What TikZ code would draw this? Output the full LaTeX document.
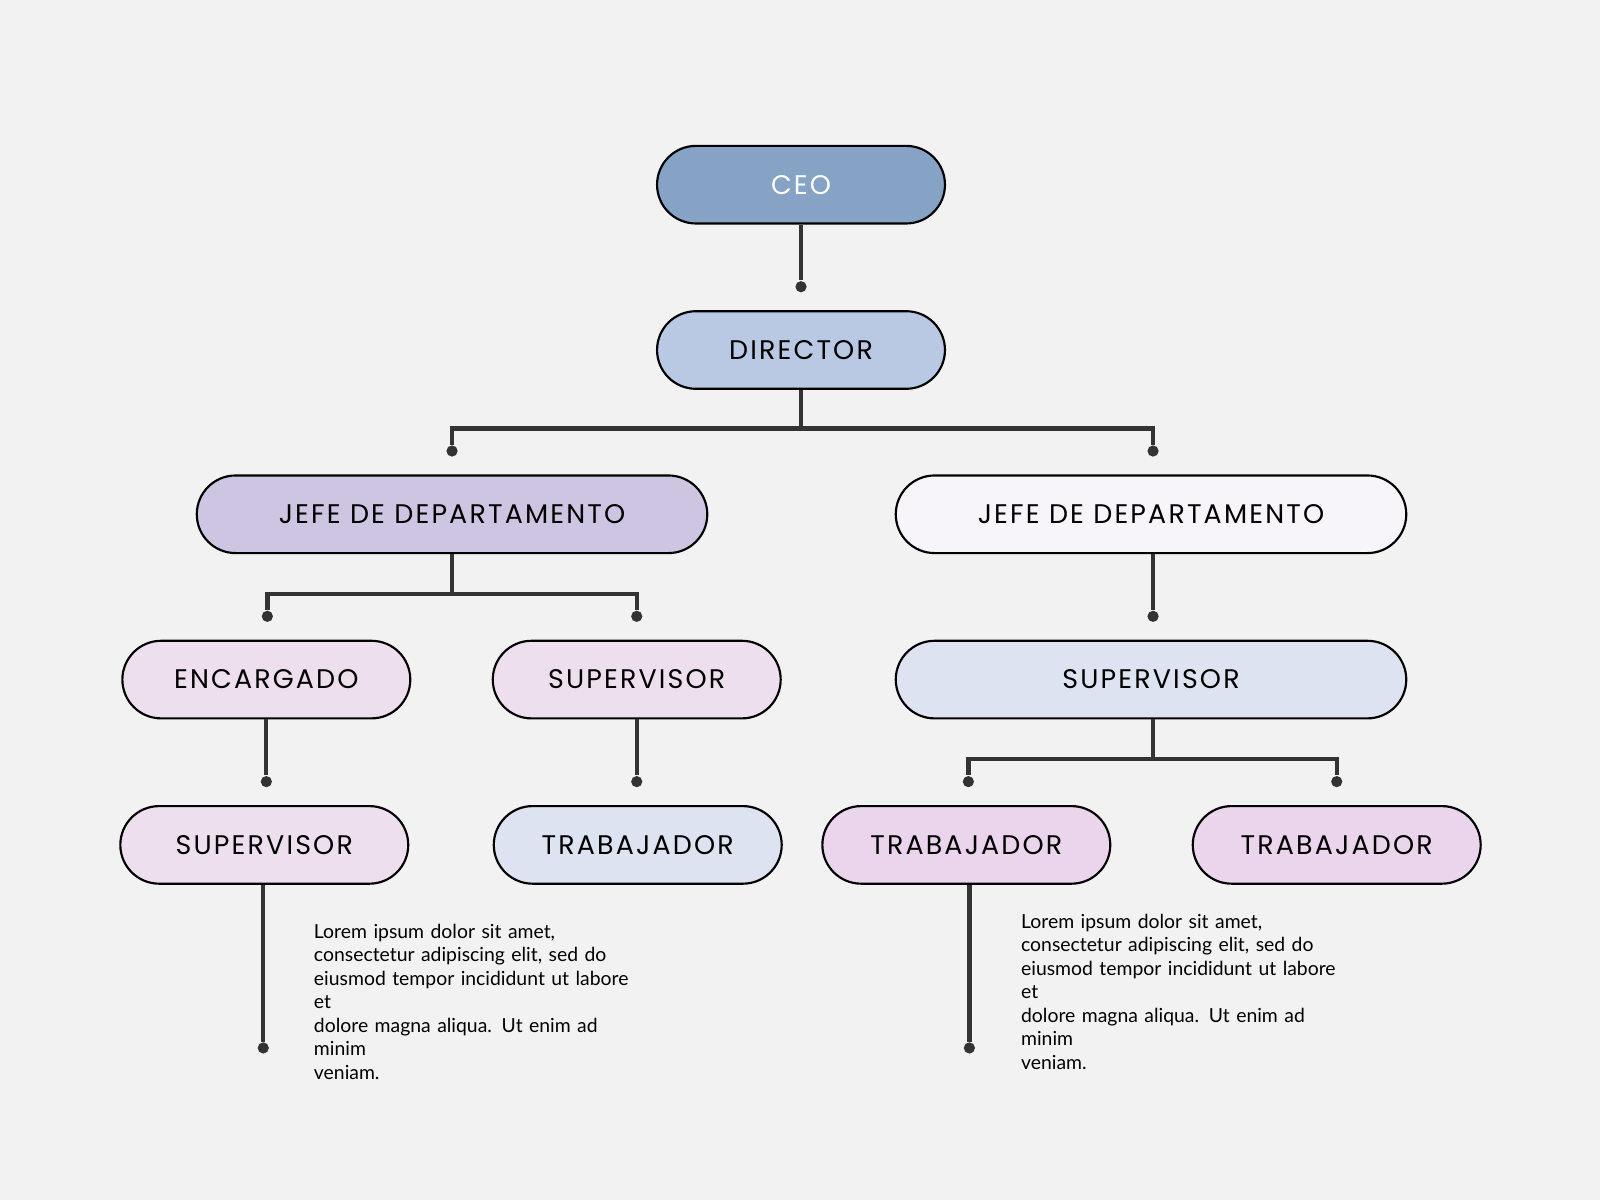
\documentclass[tikz,border=0pt]{standalone}
\usepackage{fontspec}
\setmainfont{Lato}
\newfontfamily\boxfont{Poppins}[LetterSpace=8]
\usetikzlibrary{positioning}
\definecolor{bgc}{HTML}{F2F2F2}
\definecolor{ceoc}{HTML}{86A3C6}
\definecolor{dirc}{HTML}{B9C8E3}
\definecolor{jefec}{HTML}{CDC5E2}
\definecolor{whitec}{HTML}{F8F5FA}
\definecolor{pinkc}{HTML}{EDDFEE}
\definecolor{bluec}{HTML}{DDE3F0}
\definecolor{lilac}{HTML}{EAD5EC}
\definecolor{linec}{HTML}{333333}
\begin{document}
\begin{tikzpicture}
  [x=0.01cm,y=-0.01cm,
   box/.style={draw=black,line width=0.6pt,rounded corners=0.38cm,minimum height=0.76cm,
     minimum width=2.82cm,font=\boxfont\fontsize{7.5}{9}\selectfont},
   wide/.style={box,minimum width=5cm},
   link/.style={linec,line width=1.2pt},
   dot/.style={circle,fill=linec,inner sep=0pt,minimum size=0.11cm},
   blurb/.style={anchor=north west,text width=3.2cm,align=left,inner sep=0pt,
     font=\fontsize{5.4}{6.55}\selectfont}]
  \fill[bgc] (0,0) rectangle (1568,1176);
  \node[box,fill=ceoc,text=white] (ceo) at (785,181) {CEO};
  \node[box,fill=dirc] (dir) at (785,343) {DIRECTOR};
  \node[wide,fill=jefec] (j1) at (443,504) {JEFE DE DEPARTAMENTO};
  \node[wide,fill=whitec] (j2) at (1128,504) {JEFE DE DEPARTAMENTO};
  \node[box,fill=pinkc] (enc) at (261,666) {ENCARGADO};
  \node[box,fill=pinkc] (s1) at (624,666) {SUPERVISOR};
  \node[wide,fill=bluec] (s2) at (1128,666) {SUPERVISOR};
  \node[box,fill=pinkc] (s3) at (259,828) {SUPERVISOR};
  \node[box,fill=bluec] (t1) at (625,828) {TRABAJADOR};
  \node[box,fill=lilac] (t2) at (947,828) {TRABAJADOR};
  \node[box,fill=lilac] (t3) at (1310,828) {TRABAJADOR};

  \node[dot] (d0) at (785,281) {};
  \node[dot] (d1) at (443,442) {};
  \node[dot] (d2) at (1130,442) {};
  \node[dot] (d3) at (262,604) {};
  \node[dot] (d4) at (624,604) {};
  \node[dot] (d5) at (1130,604) {};
  \node[dot] (d6) at (261,766) {};
  \node[dot] (d7) at (624,766) {};
  \node[dot] (d8) at (949,766) {};
  \node[dot] (d9) at (1310,766) {};
  \node[dot] (d10) at (258,1027) {};
  \node[dot] (d11) at (950,1027) {};

  \draw[link] (ceo) -- (d0);
  \draw[link] (dir) -- (785,420) -| (d1);
  \draw[link] (785,420) -| (d2);
  \draw[link] (j1) -- (443,582) -| (d3);
  \draw[link] (443,582) -| (d4);
  \draw[link] (j2.south -| d5) -- (d5);
  \draw[link] (s2.south -| d5) -- (1130,744) -| (d8);
  \draw[link] (1130,744) -| (d9);
  \draw[link] (enc.south -| d6) -- (d6);
  \draw[link] (s1) -- (d7);
  \draw[link] (s3.south -| d10) -- (d10);
  \draw[link] (t2.south -| d11) -- (d11);

  \node[blurb] (txt1) at (307,905)
    {Lorem ipsum dolor sit amet,\\ consectetur adipiscing elit, sed do\\ eiusmod tempor incididunt ut labore et\\ dolore magna aliqua. Ut enim ad minim\\ veniam.};
  \node[blurb] (txt2) at (1000,895)
    {Lorem ipsum dolor sit amet,\\ consectetur adipiscing elit, sed do\\ eiusmod tempor incididunt ut labore et\\ dolore magna aliqua. Ut enim ad minim\\ veniam.};
\end{tikzpicture}
\end{document}
